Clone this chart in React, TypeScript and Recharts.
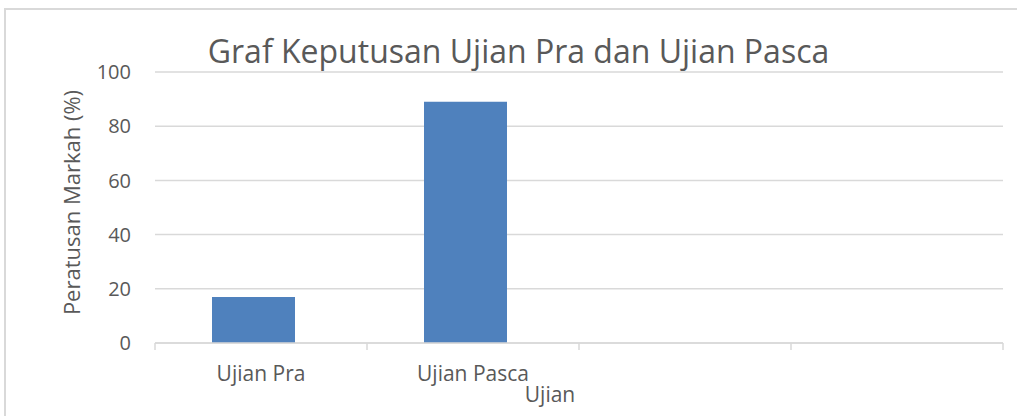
import React from "react";
import { BarChart, Bar, XAxis, YAxis, CartesianGrid, Label } from "recharts";

const categories = ["Ujian Pra", "Ujian Pasca", "", ""];
const scores = [17, 89, null, null];
const emptySeries = [null, null, null, null];
const slotCentres = [0.5, 1.5, 2.5, 3.5];
const yTicks = [0, 20, 40, 60, 80, 100];
const boundaryTicks = [0, 1, 2, 3, 4];

const title = "Graf Keputusan Ujian Pra dan Ujian Pasca";
const xTitle = "Ujian";
const yTitle = "Peratusan Markah (%)";

const data = categories.map((c, i) => ({ name: c, value: scores[i], empty: emptySeries[i], slot: slotCentres[i] }));

const FONT = "'Open Sans', sans-serif";
const TEXT = "#595959";
const GRID = "#d9d9d9";

export default function App() {
  return (
    <div style={{ position: "absolute", left: 0, top: 0, width: 1017, height: 416, background: "#fff", fontFamily: FONT, overflow: "hidden" }}>
      <div style={{ position: "absolute", left: 4, top: 8, width: 1017, height: 416, borderTop: `2px solid ${GRID}`, borderLeft: `2px solid ${GRID}`, boxSizing: "border-box" }} />
      <div style={{ position: "absolute", left: 0, top: 31, width: 1037, textAlign: "center", fontSize: 32, color: TEXT, lineHeight: "40px", whiteSpace: "nowrap" }}>
        {title}
      </div>
      <div style={{ position: "absolute", left: 0, top: 0 }}>
        <BarChart
          width={1017}
          height={416}
          data={data}
          margin={{ top: 72, right: 14, bottom: 0, left: 0 }}
          barGap={1}
        >
          <CartesianGrid vertical={false} stroke={GRID} strokeWidth={1.5} xAxisId="cat" />
          <XAxis
            xAxisId="a"
            type="number"
            dataKey="slot"
            domain={[0, 4]}
            ticks={boundaryTicks}
            interval={0}
            tickFormatter={() => ""}
            height={1}
            stroke={GRID}
            strokeWidth={1.5}
            tickSize={7}
            allowDataOverflow
          />
          <XAxis
            xAxisId="cat"
            dataKey="name"
            height={72}
            axisLine={false}
            tickLine={false}
            tickSize={0}
            tickMargin={22}
            tick={{ fill: TEXT, fontSize: 21, fontFamily: FONT }}
            interval={0}
          >
            <Label value={xTitle} position="insideBottom" offset={14} dx={-29} fill={TEXT} fontSize={21} fontFamily={FONT} />
          </XAxis>
          <YAxis
            width={155}
            domain={[0, 100]}
            ticks={yTicks}
            axisLine={false}
            tickLine={false}
            tickSize={0}
            tickMargin={24}
            tick={{ fill: TEXT, fontSize: 20, fontFamily: FONT }}
          >
            <Label value={yTitle} angle={-90} position="insideLeft" offset={72} dy={-5} fill={TEXT} fontSize={22} fontFamily={FONT} style={{ textAnchor: "middle" }} />
          </YAxis>
          <Bar dataKey="value" xAxisId="cat" fill="#4f81bd" barSize={83} isAnimationActive={false} />
          <Bar dataKey="empty" xAxisId="cat" fill="#c0504d" barSize={14} isAnimationActive={false} />
        </BarChart>
      </div>
    </div>
  );
}
